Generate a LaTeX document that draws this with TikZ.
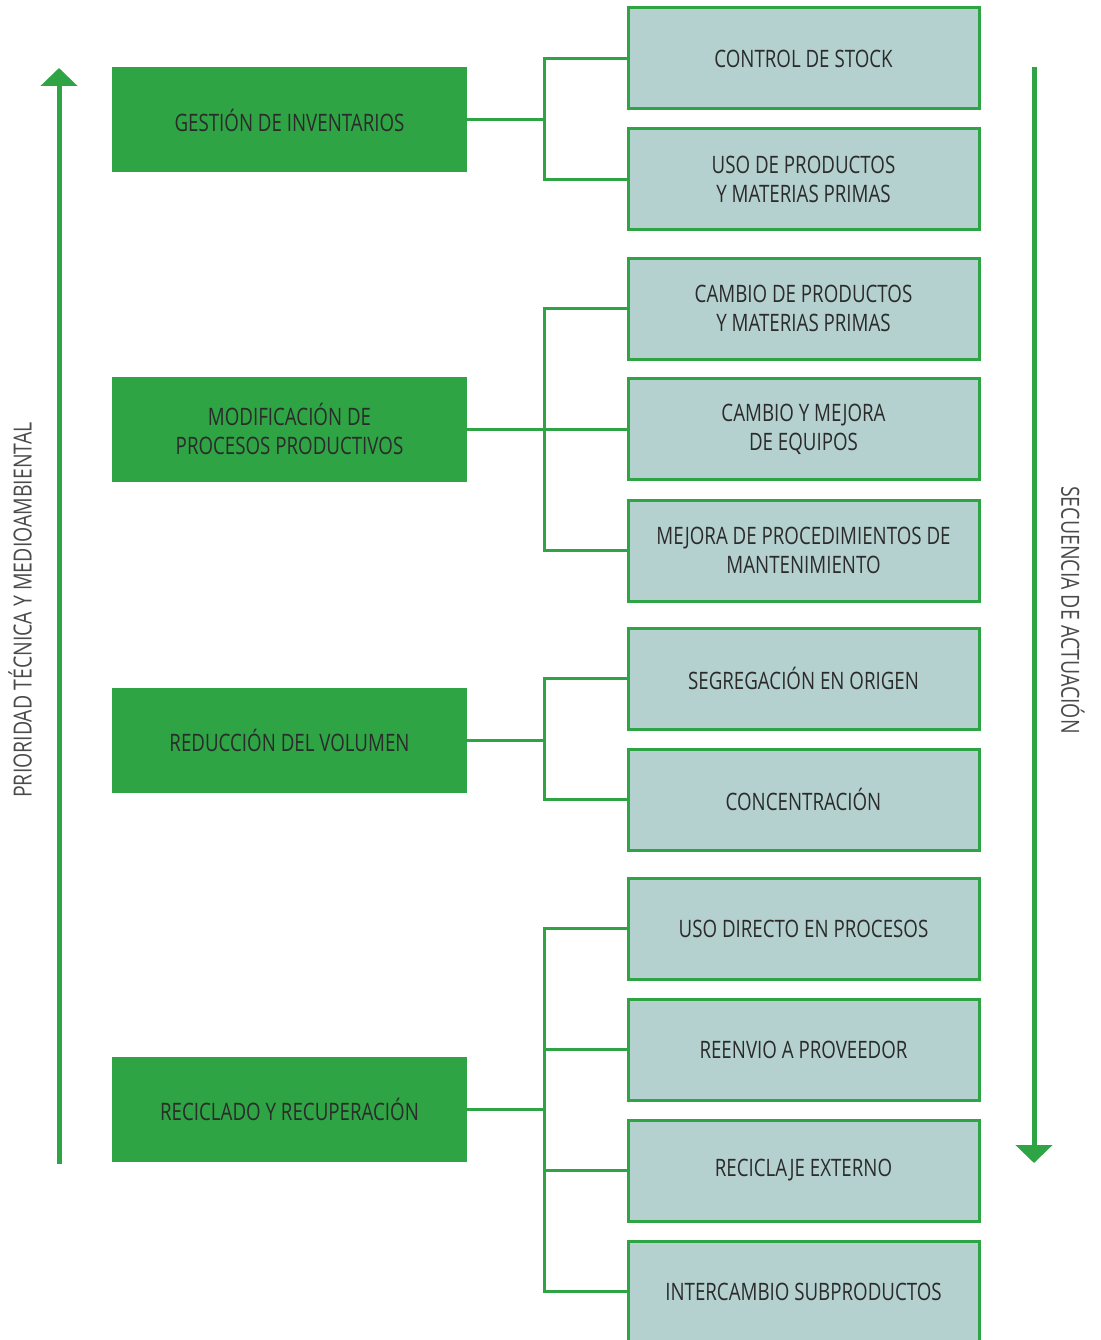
\documentclass[tikz,border=0pt]{standalone}
\usepackage{fontspec}
\setmainfont{Open Sans}[FakeStretch=0.78]
\usetikzlibrary{arrows.meta}
\definecolor{gr}{HTML}{2EA444}
\definecolor{bl}{HTML}{B4D1D0}
\definecolor{tx}{HTML}{2B2B2B}
\tikzset{
  x=1pt, y=-1pt,
  mainbox/.style={fill=gr, draw=none, minimum width=355pt, minimum height=105pt, inner sep=0pt, align=center, text=tx, font=\fontsize{24}{29}\selectfont},
  subbox/.style={fill=bl, draw=gr, line width=3pt, minimum width=351pt, minimum height=101pt, inner sep=0pt, align=center, text=tx, font=\fontsize{24}{29}\selectfont},
  link/.style={draw=gr, line width=3pt},
  sidearrow/.style={draw=gr, line width=5pt, -{Triangle[width=36pt,length=18pt]}},
  sidelabel/.style={text=tx!85, font=\fontsize{25}{29}\selectfont, inner sep=0pt}
}
\begin{document}
\begin{tikzpicture}
\useasboundingbox (0,0) rectangle (1100,1340);
% left main boxes
\node[mainbox] (g1) at (289.5,120) {GESTIÓN DE INVENTARIOS};
\node[mainbox] (g2) at (289.5,429) {MODIFICACIÓN DE\\PROCESOS PRODUCTIVOS};
\node[mainbox] (g3) at (289.5,740.5) {REDUCCIÓN DEL VOLUMEN};
\node[mainbox] (g4) at (289.5,1109.5) {RECICLADO Y RECUPERACIÓN};
% right sub boxes
\node[subbox] (s1) at (803.5,58.5) {CONTROL DE STOCK};
\node[subbox] (s2) at (803.5,179.5) {USO DE PRODUCTOS\\Y MATERIAS PRIMAS};
\node[subbox] (s3) at (803.5,308.5) {CAMBIO DE PRODUCTOS\\Y MATERIAS PRIMAS};
\node[subbox] (s4) at (803.5,429) {CAMBIO Y MEJORA\\DE EQUIPOS};
\node[subbox] (s5) at (803.5,550.5) {MEJORA DE PROCEDIMIENTOS DE\\MANTENIMIENTO};
\node[subbox] (s6) at (803.5,678.5) {SEGREGACIÓN EN ORIGEN};
\node[subbox] (s7) at (803.5,799.5) {CONCENTRACIÓN};
\node[subbox] (s8) at (803.5,928.5) {USO DIRECTO EN PROCESOS};
\node[subbox] (s9) at (803.5,1049.5) {REENVIO A PROVEEDOR};
\node[subbox] (s10) at (803.5,1170.5) {RECICLAJE EXTERNO};
\node[subbox] (s11) at (803.5,1291.5) {INTERCAMBIO SUBPRODUCTOS};
% connectors
\coordinate (b1) at (544,120);
\coordinate (b2) at (544,429);
\coordinate (b3) at (544,740.5);
\coordinate (b4) at (544,1109.5);
\draw[link] (g1.east) -- (b1);
\draw[link] (s1.west) -| (b1) |- (s2.west);
\draw[link] (g2.east) -- (s4.west);
\draw[link] (s3.west) -| (b2) |- (s5.west);
\draw[link] (g3.east) -- (b3);
\draw[link] (s6.west) -| (b3) |- (s7.west);
\draw[link] (g4.east) -- (b4);
\draw[link] (s8.west) -| (b4) |- (s11.west);
\draw[link] (b4 |- s9.west) -- (s9.west);
\draw[link] (b4 |- s10.west) -- (s10.west);
% side arrows
\coordinate (la0) at (59,1164);
\coordinate (la1) at (59,68);
\draw[sidearrow] (la0) -- (la1);
\coordinate (ra0) at (1034,67);
\coordinate (ra1) at (1034,1163);
\draw[sidearrow] (ra0) -- (ra1);
\node[sidelabel, rotate=90] (lt) at (20,610) {PRIORIDAD TÉCNICA Y MEDIOAMBIENTAL};
\node[sidelabel, rotate=-90] (rt) at (1073,610) {SECUENCIA DE ACTUACIÓN};
\end{tikzpicture}
\end{document}
